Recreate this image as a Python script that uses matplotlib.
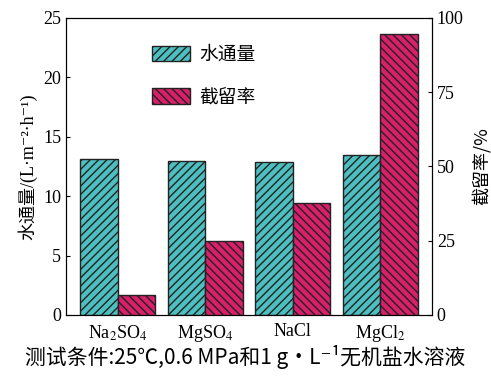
import numpy as np
import matplotlib
matplotlib.use('Agg')
import matplotlib.pyplot as plt

plt.rcParams['font.family'] = ['Liberation Serif', 'Noto Sans CJK SC', 'DejaVu Sans']
plt.rcParams['hatch.linewidth'] = 1.0
plt.rcParams['mathtext.fontset'] = 'stix'

salts = ['Na$_2$SO$_4$', 'MgSO$_4$', 'NaCl', 'MgCl$_2$']
flux = [13.1, 13.0, 12.9, 13.5]
rejection = [6.7, 24.9, 37.8, 94.6]

cjk = ['Noto Sans CJK SC', 'DejaVu Sans']
cyan = '#4dbfc0'
magenta = '#d81f6a'

fig = plt.figure(figsize=(4.91, 3.82), dpi=100)
ax = fig.add_axes([0.1344, 0.1754, 0.7454, 0.7775])
ax2 = ax.twinx()

x = np.arange(len(salts))
bw = 0.43
b1 = ax.bar(x - bw/2, flux, bw, color=cyan, edgecolor='#222222',
            hatch='////', linewidth=1.0, label='水通量')
b2 = ax2.bar(x + bw/2, rejection, bw, color=magenta, edgecolor='#222222',
             hatch='\\\\\\\\', linewidth=1.0, label='截留率')

ax.set_xlim(-0.59, 3.59)
ax.set_ylim(0, 25)
ax2.set_ylim(0, 100)
ax.set_yticks([0, 5, 10, 15, 20, 25])
ax2.set_yticks([0, 25, 50, 75, 100])
ax.set_xticks(x)
ax.set_xticklabels(salts, fontsize=13)
ax.tick_params(axis='x', length=0, pad=6)
ax.tick_params(axis='y', direction='in', length=3, labelsize=13)
ax2.tick_params(axis='y', direction='in', length=3, labelsize=13)

ax.set_ylabel('水通量/(L·m⁻²·h⁻¹)', fontsize=13, labelpad=4)
ax2.set_ylabel('截留率/%', fontsize=13, family=cjk, labelpad=6)

leg = ax.legend([b1, b2], ['水通量', '截留率'], loc='upper left',
                bbox_to_anchor=(0.19, 0.97), frameon=False,
                prop={'family': cjk, 'size': 13.5}, labelspacing=1.15,
                handlelength=2.0, handleheight=0.9, handletextpad=0.5)

fig.text(0.5, 0.065, '测试条件:25℃,0.6 MPa和1 g·L⁻¹无机盐水溶液',
         ha='center', va='center', fontsize=15, family=cjk, fontweight='medium')

fig.savefig('out.png', dpi=100)
